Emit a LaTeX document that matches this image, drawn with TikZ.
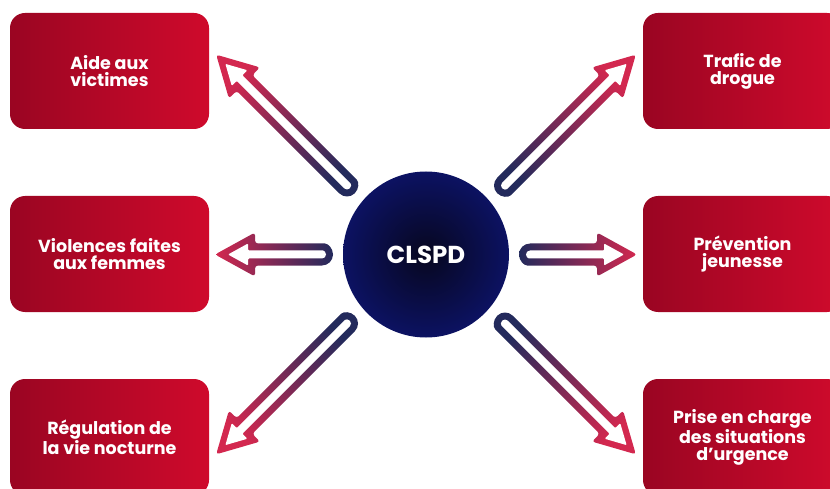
\documentclass[tikz,border=0pt]{standalone}
\usepackage{fontspec}
\setmainfont{Poppins}
\usetikzlibrary{calc}

\definecolor{boxdark}{HTML}{9A0522}
\definecolor{boxlight}{HTML}{CF0A2C}
\definecolor{discin}{HTML}{07071F}
\definecolor{discout}{HTML}{0C1262}
\definecolor{arrownavy}{HTML}{232A5C}
\definecolor{arrowplum}{HTML}{6E1150}
\definecolor{arrowred}{HTML}{D3284F}

% arrow sizes (pt): shaft, head, hollow inside
\newcommand{\awo}{11}
\newcommand{\awi}{4}
\newcommand{\aho}{22}
\newcommand{\ahi}{11}
\newcommand{\ahl}{40}
\newcommand{\ahli}{33}
\newcommand{\atip}{13}

% hollow block arrow: tail, tip, direction
\newcommand{\blockarrow}[3]{%
  \pgfmathsetmacro{\shadeang}{#3+90}%
  % outline, shaded from tail to tip
  \shade[arrow shade, shading angle=\shadeang, rounded corners=3pt]
    ($(#1)+(#3+90:\awo)$)
    -- ($(#2)+(#3+180:\ahl)+(#3+90:\awo)$)
    -- ($(#2)+(#3+180:\ahl)+(#3+90:\aho)$)
    -- (#2)
    -- ($(#2)+(#3+180:\ahl)+(#3-90:\aho)$)
    -- ($(#2)+(#3+180:\ahl)+(#3-90:\awo)$)
    -- ($(#1)+(#3-90:\awo)$)
    arc[start angle=#3-90, delta angle=-180, radius=\awo];
  % hollow inside
  \fill[white, rounded corners=1pt]
    ($(#1)+(#3+90:\awi)$)
    -- ($(#2)+(#3+180:\ahli)+(#3+90:\awi)$)
    -- ($(#2)+(#3+180:\ahli)+(#3+90:\ahi)$)
    -- ($(#2)+(#3+180:\atip)$)
    -- ($(#2)+(#3+180:\ahli)+(#3-90:\ahi)$)
    -- ($(#2)+(#3+180:\ahli)+(#3-90:\awi)$)
    -- ($(#1)+(#3-90:\awi)$)
    arc[start angle=#3-90, delta angle=-180, radius=\awi];
}

\begin{document}
\begin{tikzpicture}[x=1pt, y=1pt,
  box/.style={rectangle, rounded corners=15pt, minimum width=199pt, minimum height=116pt,
    inner sep=0pt, left color=boxdark, right color=boxlight, text=white, align=center,
    font=\bfseries\fontsize{17.5}{17}\selectfont},
  hub/.style={circle, minimum size=166pt, inner sep=0pt, inner color=discin,
    outer color=discout, text=white, font=\bfseries\fontsize{24.5}{26}\selectfont},
  arrow shade/.style={top color=arrownavy, middle color=arrowplum, bottom color=arrowred}]
\useasboundingbox (0,0) rectangle (830,488);

%--- Centre ---
\node[hub] (clspd) at (426,233.5) {CLSPD};

%--- Left column ---
\node[box] (victimes) at (109.5,417) {Aide aux\\victimes};
\node[box] (femmes) at (109.5,234) {Violences faites\\aux femmes};
\node[box] (nuit) at (109.5,51) {Régulation de\\la vie nocturne};

%--- Right column ---
\node[box] (drogue) at (742.5,417) {Trafic de\\drogue};
\node[box] (jeunesse) at (742.5,234) {Prévention\\jeunesse};
\node[box] (urgence) at (742.5,51) {Prise en charge\\des situations\\d’urgence};

%--- Arrows out of the centre ---
\coordinate (tl-tail) at ($(clspd)+(-79,69)$);
\coordinate (tl-tip) at ($(tl-tail)+(135:185)$);
\coordinate (ml-tail) at ($(clspd)+(-104,0)$);
\coordinate (ml-tip) at ($(ml-tail)+(180:107)$);
\coordinate (bl-tail) at ($(clspd)+(-79,-69)$);
\coordinate (bl-tip) at ($(bl-tail)+(225:185)$);
\coordinate (tr-tail) at ($(clspd)+(79,69)$);
\coordinate (tr-tip) at ($(tr-tail)+(45:185)$);
\coordinate (mr-tail) at ($(clspd)+(104,0)$);
\coordinate (mr-tip) at ($(mr-tail)+(0:107)$);
\coordinate (br-tail) at ($(clspd)+(79,-69)$);
\coordinate (br-tip) at ($(br-tail)+(315:185)$);

\blockarrow{tl-tail}{tl-tip}{135}
\blockarrow{ml-tail}{ml-tip}{180}
\blockarrow{bl-tail}{bl-tip}{225}
\blockarrow{tr-tail}{tr-tip}{45}
\blockarrow{mr-tail}{mr-tip}{0}
\blockarrow{br-tail}{br-tip}{315}
\end{tikzpicture}
\end{document}
